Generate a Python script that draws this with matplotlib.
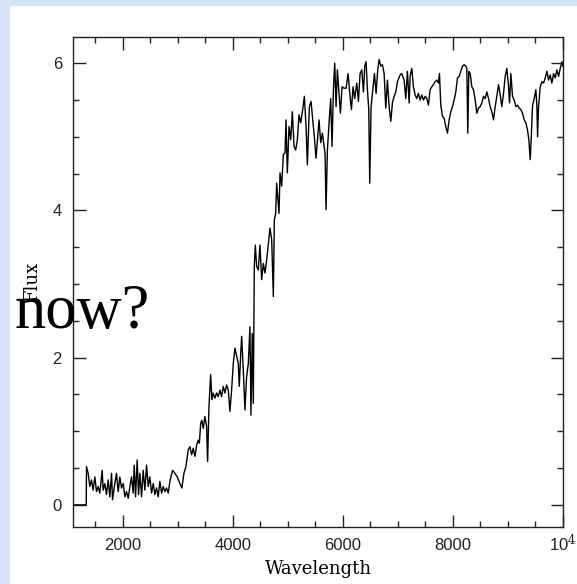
import numpy as np
import matplotlib
matplotlib.use("Agg")
import matplotlib.pyplot as plt
import matplotlib.transforms as mtransforms
from matplotlib.patches import Rectangle

# spectrum (wavelength, flux)
wave = [1100, 1340, 1345, 1375, 1406, 1436, 1466, 1497, 1527, 1557, 1587, 1630, 1648, 1678,
        1709, 1739, 1769, 1800, 1818, 1860, 1890, 1921, 1951, 1981, 2012, 2042, 2072, 2103,
        2133, 2163, 2193, 2212, 2236, 2266, 2290, 2315, 2345, 2375, 2406, 2436, 2466, 2496,
        2527, 2557, 2587, 2618, 2648, 2678, 2709, 2739, 2769, 2799, 2830, 2860, 2908, 2951,
        2993, 3042, 3078, 3115, 3151, 3193, 3224, 3254, 3284, 3315, 3345, 3375, 3395, 3420,
        3440, 3466, 3496, 3526, 3545, 3570, 3600, 3623, 3647, 3678, 3708, 3738, 3769, 3799,
        3829, 3860, 3890, 3920, 3950, 3981, 4011, 4041, 4072, 4102, 4120, 4144, 4163, 4193,
        4223, 4253, 4284, 4314, 4332, 4356, 4375, 4393, 4411, 4436, 4466, 4496, 4527, 4557,
        4587, 4618, 4648, 4678, 4709, 4739, 4757, 4781, 4799, 4818, 4842, 4860, 4890, 4921,
        4951, 4969, 4993, 5024, 5054, 5084, 5115, 5145, 5175, 5205, 5236, 5272, 5302, 5333,
        5357, 5393, 5424, 5454, 5484, 5514, 5545, 5569, 5599, 5630, 5660, 5678, 5696, 5721,
        5751, 5781, 5805, 5830, 5854, 5878, 5902, 5927, 5957, 5987, 6024, 6060, 6096, 6127,
        6157, 6187, 6217, 6254, 6284, 6314, 6345, 6375, 6399, 6423, 6448, 6472, 6490, 6514,
        6545, 6575, 6605, 6635, 6660, 6690, 6720, 6751, 6781, 6811, 6842, 6872, 6902, 6933,
        6963, 6993, 7029, 7041, 7071, 7114, 7144, 7174, 7205, 7223, 7253, 7283, 7314, 7344,
        7374, 7405, 7435, 7465, 7496, 7526, 7556, 7586, 7617, 7647, 7677, 7708, 7738, 7756,
        7780, 7811, 7841, 7871, 7901, 7932, 7962, 7992, 8023, 8053, 8083, 8114, 8144, 8174,
        8204, 8235, 8253, 8271, 8289, 8314, 8344, 8374, 8405, 8435, 8465, 8495, 8526, 8556,
        8586, 8617, 8647, 8677, 8708, 8738, 8768, 8798, 8829, 8859, 8889, 8920, 8950, 8980,
        9011, 9029, 9053, 9083, 9113, 9144, 9174, 9204, 9235, 9265, 9295, 9326, 9356, 9380,
        9404, 9422, 9447, 9477, 9507, 9526, 9538, 9556, 9586, 9617, 9647, 9677, 9707, 9738,
        9768, 9798, 9829, 9859, 9889, 9920, 9950, 9980, 9998]
flux = [0.0, 0.0, 0.52, 0.43, 0.25, 0.34, 0.20, 0.38, 0.18, 0.25, 0.16, 0.47, 0.20, 0.29,
        0.14, 0.34, 0.11, 0.43, 0.07, 0.29, 0.43, 0.18, 0.38, 0.23, 0.29, 0.11, 0.18, 0.09,
        0.25, 0.38, 0.16, 0.54, 0.11, 0.61, 0.14, 0.43, 0.11, 0.47, 0.20, 0.54, 0.25, 0.38,
        0.16, 0.29, 0.14, 0.23, 0.11, 0.32, 0.16, 0.25, 0.18, 0.23, 0.16, 0.32, 0.47, 0.43,
        0.38, 0.29, 0.23, 0.43, 0.52, 0.75, 0.79, 0.68, 0.77, 0.66, 0.81, 0.88, 0.84, 1.11,
        1.15, 1.04, 1.20, 1.07, 0.59, 1.34, 1.77, 1.43, 1.52, 1.45, 1.52, 1.47, 1.56, 1.47,
        1.61, 1.52, 1.63, 1.56, 1.27, 1.56, 1.92, 2.13, 2.02, 1.92, 1.61, 2.02, 2.29, 1.83,
        1.29, 1.74, 1.92, 2.42, 1.22, 2.33, 1.38, 3.24, 3.53, 3.24, 3.19, 3.53, 3.06, 3.28,
        3.15, 3.33, 3.55, 3.76, 3.60, 2.83, 3.87, 3.96, 4.37, 4.19, 3.96, 4.51, 4.33, 4.76,
        4.78, 5.23, 4.51, 5.14, 4.96, 5.34, 4.87, 4.82, 4.96, 5.30, 5.19, 5.37, 5.55, 5.14,
        4.62, 5.41, 5.48, 5.23, 5.00, 4.71, 5.00, 5.23, 4.92, 5.05, 4.87, 4.78, 4.01, 4.82,
        5.19, 5.52, 4.87, 5.64, 6.00, 5.41, 5.91, 5.64, 5.32, 5.68, 5.66, 5.66, 5.86, 5.59,
        5.37, 5.68, 5.52, 5.73, 5.48, 5.86, 5.91, 5.61, 5.96, 6.02, 5.64, 5.37, 4.37, 5.41,
        5.64, 5.86, 5.59, 5.91, 6.05, 5.96, 5.98, 5.86, 5.39, 5.77, 5.41, 5.21, 5.46, 5.55,
        5.61, 5.75, 5.82, 5.84, 5.86, 5.77, 5.52, 5.89, 5.46, 5.82, 5.93, 5.68, 5.57, 5.52,
        5.59, 5.50, 5.57, 5.50, 5.55, 5.52, 5.43, 5.64, 5.68, 5.71, 5.75, 5.77, 5.73, 5.86,
        5.43, 5.28, 5.25, 5.14, 5.05, 5.23, 5.34, 5.41, 5.50, 5.61, 5.80, 5.82, 5.89, 5.96,
        5.98, 5.96, 5.93, 5.05, 5.89, 5.86, 5.68, 5.64, 5.50, 5.32, 5.39, 5.41, 5.46, 5.55,
        5.52, 5.61, 5.52, 5.41, 5.34, 5.23, 5.41, 5.55, 5.71, 5.57, 5.41, 5.59, 5.82, 5.93,
        5.68, 5.46, 5.86, 5.55, 5.50, 5.41, 5.43, 5.39, 5.37, 5.32, 5.23, 5.19, 5.09, 4.96,
        4.69, 4.96, 5.43, 5.52, 5.64, 5.41, 5.00, 5.41, 5.68, 5.75, 5.73, 5.80, 5.89, 5.77,
        5.84, 5.73, 5.86, 5.80, 5.91, 5.82, 5.93, 6.02, 5.96]

xticks = [2000, 4000, 6000, 8000, 10000]
xticklabels = ["2000", "4000", "6000", "8000", r"10$^4$"]
yticks = [0, 2, 4, 6]

plt.rcParams["mathtext.fontset"] = "dejavuserif"

fig = plt.figure(figsize=(5.77, 5.84), dpi=100)
fig.patch.set_facecolor("#d4e4f4")
# white slide area
fig.add_artist(Rectangle((10 / 577, 0), 1, 1 - 6 / 584, transform=fig.transFigure,
                         facecolor="white", edgecolor="none", zorder=-1))

ax = fig.add_axes([73 / 577, 1 - 527 / 584, 490 / 577, 490.3 / 584])
ax.plot(wave, flux, color="k", lw=1.0)

ax.set_xlim(1100, 10000)
ax.set_ylim(-0.3, 6.36)
ax.set_xticks(xticks)
ax.set_xticklabels(xticklabels)
ax.set_xticks(np.arange(1500, 10000, 500), minor=True)
ax.set_yticks(yticks)
ax.set_yticks(np.arange(0.5, 6.3, 0.5), minor=True)

for s in ax.spines.values():
    s.set_linewidth(1.0)
    s.set_color("#222222")
ax.tick_params(which="both", direction="in", top=True, right=True, color="#222222")
ax.tick_params(which="major", length=9, width=1.0, pad=8, labelsize=12, labelcolor="#222222")
ax.tick_params(which="minor", length=4.5, width=1.0)
for lab in ax.get_xticklabels() + ax.get_yticklabels():
    lab.set_family("Liberation Sans")
# the 10^4 label sits a bit higher (mathtext baseline)
last = ax.get_xticklabels()[-1]
last.set_transform(last.get_transform() + mtransforms.ScaledTranslation(0, 5 / 100, fig.dpi_scale_trans))

ax.set_xlabel("Wavelength", family="DejaVu Serif", fontsize=13, labelpad=4)
ax.set_ylabel("Flux", family="DejaVu Serif", fontsize=13, labelpad=8)

fig.text(15 / 577, 1 - 328 / 584, "now?", family="Liberation Serif", fontsize=45,
         va="baseline", ha="left", color="black", zorder=10)

fig.savefig("out.png", dpi=100, facecolor=fig.get_facecolor())
